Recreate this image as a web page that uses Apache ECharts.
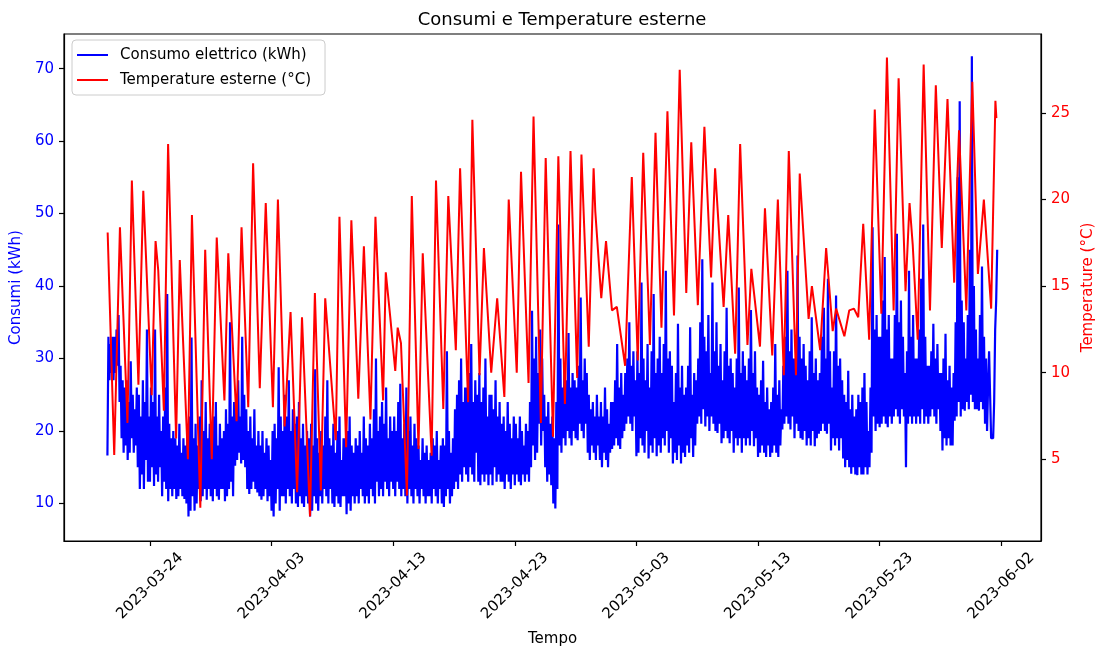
<!DOCTYPE html>
<html><head><meta charset="utf-8">
<script src="https://cdn.jsdelivr.net/npm/echarts@6.0.0/dist/echarts.min.js"></script>
<style>html,body{margin:0;padding:0;background:#fff}#c{width:1104px;height:652px}</style>
</head><body><div id="c"></div>
<script>
// Day origin for the x axis: 2023-03-24 00:00
const originDate = '2023-03-24T00:00:00Z';
// Consumption: readings every 2 hours starting 2023-03-20 12:00 (one row per day)
const consStart = '2023-03-20T12:00:00Z';
const consStepHours = 2;
const consumption = [
16.6,33,27,32,28,33,
27,33,28,34,29,36,24,29,19,27,17,26,
18,27,16,24,17,29.6,19,25,17,23,18,26,
15,25,12,22,14,27,12,24,16,34,13,22,
13,26,15,24,12.4,34,14,22,13,25,15,20,
11,22,13,26,12,38.9,10.3,21,12,19,11,20,
12,19,10.6,18,11,21,12,17,11,19,10.6,18,
10,20,8.2,22,9,32.9,11,19,9,21,10,18,
12,22,10.3,27,11,20,12,24,10.5,19,12,21,
11,20,10.3,22,12,24,11,18,10.5,21,12,19,
12,20,10.3,23,11,21,12,35,13,22,11,24,
15.2,24,16,27,17,22,15.5,33,16,25,15,23,
12,20,11.3,22,12,19,13,23,12,18,11.5,20,
11,18,10.5,20,11,17,12,19,10.3,18,11,16,
9,20,8.2,21,10,19,12,28.8,9,22,11,20,
11,25,10,22,12,27,11,20,10,23,12,21,
10,22,9.5,24,11,19,10,21,9.5,18,11,20,
10,19,8.2,21,9,18,11,28.5,10,19,9,17,
11,20,10,18,12,22,11,27,10,19,12,18,
10,21,9.5,17,11,20,10,22,9.5,16,11,19,
11,19,8.5,20,10,22,9,18,11,17,10,19,
11,18,10,20,12,17,11,22,10,19,11,18,
10,21,12,19,11,23,10,30,13,20,11,22,
12,24,11,21,13,26,12,19,11,22,13,20,
12,22,11,20,13,24,12,26.5,11,19,12,21,
11,26,10,20,12,22,11,18,10,21,12,19,
11,18,10,16,12,19,11,17,10,18,11,16,
11,17,10,19,12,18,11,20,10,16,12,18,
10,19,9.5,18,11,31,12,20,10,17,11,19,
12,23,13,25,12,27,14,30,13,24,15,26,
14,26,13,28,15,32,14,24,13,27,17,25,
13,28,12.5,24,14,26,13,30,14,22,12.5,25,
14,25,12.5,23,15,27,13,22,14,24,13,21,
13,22,12,20,14,24,13,21,12,19,14,22,
12.5,21,14,19,13,22,12.5,20,14,18,13,21,
14,20,13,24,15,36.6,18,30,16,33,17,28,
21,34,18,30,20,25,15,22,13,24,14,21,
12.5,22,10,19,9.3,24,12,48.5,18,30,17,26,
19,29,18,27,20,33.5,19,26,18,28,20,27,
19,26,18.7,29,21,38.4,20,27,19,30,21,28,
17,25,16,23,18,24,17,22,16,25,18,22,
16,24,15,22,17,26,16,23,15,21,17,24,
17.5,24,18,27,19,32,18,26,17.5,28,19,25,
20,28,21,30,22,35,21,29,20,31,22,27,
16.5,31,17,28,19,40.5,18,30,17,27,20,32,
16.2,26,18,31,17,38.9,19,28,16.5,30,18,33,
17,28,19,32,18,42.1,20,30,17,31,19,29,
15.5,24,17,28,16,34.8,18,26,15.5,29,17,25,
16.4,26,18,29,17,34.3,19,25,16.4,28,18,27,
21,30,22,35,21,43.7,23,33,20.6,31,22,36,
20,28,22,40.5,21,31,20,35,19.7,29,21,32,
18.3,27,19,31,20,37,19,29,18.3,30,20,28,
17,26,19,30,18,39.8,19,28,17,31,19,29,
18,27,19,30,18,36.7,20,28,17.9,31,19,26,
16.4,25,17,27,18,29.7,17,24,16.4,26,18,23,
16.4,24,17,26,18,32,17,25,16.4,27,18,23,
20.2,29,21,33,22,42.1,21,31,20.2,34,22,30,
19,30,21,44.2,20,33,19,30,18.8,32,20,29,
18,27,19,31,18,35.7,20,28,17.9,30,19,27,
19.6,28,20,33,21,37,20,30,19.6,41,21,31,
17.3,26,19,31,18,38.7,19,29,17.3,30,19,27,
16.2,25,15,24,16,28.3,15,23,14.1,25,15,22,
14,23,13.9,25,15,24,14,26,14,28,15,24,
14,20,15,26,17,48.1,22,34,20,36,21,33,
20.5,33,21,38,22,44,21,34,20.5,36,22,30,
21,30,22,36,23,47.2,22,35,21,38,23,33,
22,28,15,31,21,42.1,22,33,21,36,22,30,
21,30,22,34,21,41,23,48.5,21,33,22,29,
21,29,22,31,23,34.8,22,30,21,32,23,28,
20,28,17.3,30,19,33.4,18,27,19,29,18,26,
18,28,21.4,35,22,55,24,65.5,22,38,23,35,
22.8,30,24,36,23,45,25,71.7,24,40,23,34,
23,30,22.8,36,24,42.7,23,33,21,30,20,26,
31,25,19,18.8,19,24,34,38,45
];
// Temperature turning points: days since 2023-03-24 00:00 and °C
const tempDays = [-3.48,-2.94,-2.47,-1.85,-1.49,-0.95,-0.55,0.14,0.46,0.68,
1.14,1.49,2.15,2.45,3.12,3.45,4.14,4.54,5.08,5.49,
6.12,6.44,7.12,7.53,8.08,8.48,9.03,9.52,10.11,10.52,
11.07,11.56,12.10,12.50,13.16,13.56,14.05,14.41,15.28,15.58,
16.13,16.56,17.13,17.59,18.13,18.54,19.17,19.39,19.76,20.17,
20.37,20.64,21.13,21.53,22.08,22.43,23.16,23.52,24.12,24.53,
25.15,25.50,26.16,26.51,27.10,27.46,28.06,28.55,29.14,29.50,
30.16,30.51,31.13,31.54,32.14,32.54,33.14,33.58,34.12,34.58,
35.13,35.48,36.08,36.48,36.62,37.11,37.50,37.99,38.39,39.07,
39.62,40.11,40.56,41.11,41.57,42.06,42.55,43.09,43.56,44.10,
44.51,45.05,45.59,46.14,46.47,47.17,47.55,48.12,48.53,49.13,
49.45,50.16,50.57,51.17,51.63,52.12,52.53,53.12,53.43,54.16,
54.43,55.11,55.60,56.14,56.42,57.10,57.50,57.89,58.24,58.65,
59.14,59.60,60.14,60.60,61.15,61.56,62.13,62.46,62.72,63.13,
63.62,64.14,64.62,65.11,65.58,66.13,66.39,66.53,67.13,67.62,
68.08,68.57,69.17,69.52,69.60];
const tempValues = [18.1,5.25,18.4,7.1,21.1,9.3,20.5,8.7,17.6,15.9,
7.8,23.2,6.2,16.5,5.0,19.1,2.2,17.1,5.0,17.8,
8.4,16.9,7.2,18.4,8.0,22.1,9.1,19.8,8.0,20.0,
6.9,13.5,3.1,13.2,1.7,14.6,3.2,14.3,6.1,19.0,
5.7,18.8,8.5,17.3,7.3,19.0,8.4,15.8,13.2,10.1,
12.6,11.7,2.9,20.2,5.6,16.9,5.2,21.1,7.9,20.2,
11.3,21.8,8.3,24.6,9.85,17.2,10.0,14.3,8.6,20.0,
10.0,21.6,9.4,24.8,7.1,22.4,6.3,22.5,8.2,22.8,
9.7,22.6,11.5,21.8,19.3,14.3,17.6,13.6,13.8,10.4,
21.3,10.7,22.7,11.6,23.85,12.6,25.1,13.3,27.5,14.6,
23.3,13.9,24.2,15.5,21.8,13.8,19.1,11.1,23.2,11.6,
16.0,11.5,19.5,11.0,20.0,9.85,22.8,9.85,21.5,13.1,
15.0,11.3,17.2,12.4,13.7,12.1,13.6,13.7,13.2,18.6,
11.9,25.2,13.4,28.2,13.6,27.0,14.7,19.8,17.4,11.9,
27.8,13.6,26.6,17.2,25.8,15.2,21.3,24.0,13.6,26.8,
15.7,20.0,13.7,25.7,24.7];
const xTickDays = [0,10,20,30,40,50,60,70];
const xTickLabels = ['2023-03-24','2023-04-03','2023-04-13','2023-04-23','2023-05-03','2023-05-13','2023-05-23','2023-06-02'];
const leftTicks = [10,20,30,40,50,60,70];
const rightTicks = [5,10,15,20,25];

const DAY = 86400000;
const consStartDay = (Date.parse(consStart) - Date.parse(originDate)) / DAY;
const consData = consumption.map((v,i)=>[consStartDay + i*consStepHours/24, v]);
const tempData = tempDays.map((d,i)=>[d, tempValues[i]]);

const FONT = 'DejaVu Sans';
const BLUE = '#0000ff', RED = '#ff0000';
const chart = echarts.init(document.getElementById('c'), null, {renderer:'canvas'});
chart.setOption({
  animation:false,
  backgroundColor:'#ffffff',
  title:{text:'Consumi e Temperature esterne', left:557, top:6, textAlign:'center',
    textStyle:{fontSize:18, fontWeight:'normal', color:'#000', fontFamily:FONT}},
  legend:{orient:'vertical', left:72, top:40, padding:[6,14,6,5], itemWidth:31, itemHeight:2, itemGap:7, icon:'rect',
    textStyle:{fontSize:15, color:'#000', fontFamily:FONT, lineHeight:18, padding:[0,0,0,7]},
    backgroundColor:'rgba(255,255,255,0.8)', borderColor:'#cccccc', borderWidth:1, borderRadius:4,
    data:['Consumo elettrico (kWh)','Temperature esterne (°C)']},
  grid:{left:64, right:55, top:34, bottom:109, show:true, borderColor:'#000', borderWidth:1.2, backgroundColor:'transparent'},
  xAxis:{type:'value', min:-7.07, max:73.27,
    axisLine:{show:true, onZero:false, lineStyle:{color:'#000', width:1.2}},
    axisTick:{show:true, length:5, lineStyle:{color:'#000', width:1.2}, customValues:xTickDays},
    axisLabel:{customValues:xTickDays, rotate:45, align:'center', verticalAlign:'middle', margin:45,
      fontSize:15, color:'#000', fontFamily:FONT,
      formatter:v=>{const k=xTickDays.indexOf(Math.round(v)); return k>=0?xTickLabels[k]:'';}},
    splitLine:{show:false},
    name:'Tempo', nameLocation:'middle', nameGap:91, nameTextStyle:{fontSize:15, color:'#000', fontFamily:FONT}},
  yAxis:[
    {type:'value', position:'left', min:4.81, max:74.78,
      axisLine:{show:true, onZero:false, lineStyle:{color:'#000', width:1.2}},
      axisTick:{show:true, length:5, lineStyle:{color:'#000', width:1.2}, customValues:leftTicks},
      axisLabel:{customValues:leftTicks, margin:10, fontSize:15, color:BLUE, fontFamily:FONT},
      splitLine:{show:false},
      name:'Consumi (kWh)', nameLocation:'middle', nameRotate:90, nameGap:37,
      nameTextStyle:{fontSize:15, color:BLUE, fontFamily:FONT}},
    {type:'value', position:'right', min:0.28, max:29.56,
      axisLine:{show:true, onZero:false, lineStyle:{color:'#000', width:1.2}},
      axisTick:{show:true, length:5, lineStyle:{color:'#000', width:1.2}, customValues:rightTicks},
      axisLabel:{customValues:rightTicks, margin:10, fontSize:15, color:RED, fontFamily:FONT},
      splitLine:{show:false},
      name:'Temperature (°C)', nameLocation:'middle', nameRotate:90, nameGap:34,
      nameTextStyle:{fontSize:15, color:RED, fontFamily:FONT}}
  ],
  series:[
    {type:'line', name:'Consumo elettrico (kWh)', xAxisIndex:0, yAxisIndex:0, data:consData,
      showSymbol:false, symbol:'none', lineStyle:{color:BLUE, width:2.2}, itemStyle:{color:BLUE}},
    {type:'line', name:'Temperature esterne (°C)', xAxisIndex:0, yAxisIndex:1, data:tempData,
      showSymbol:false, symbol:'none', lineStyle:{color:RED, width:2}, itemStyle:{color:RED}}
  ]
});
</script></body></html>
